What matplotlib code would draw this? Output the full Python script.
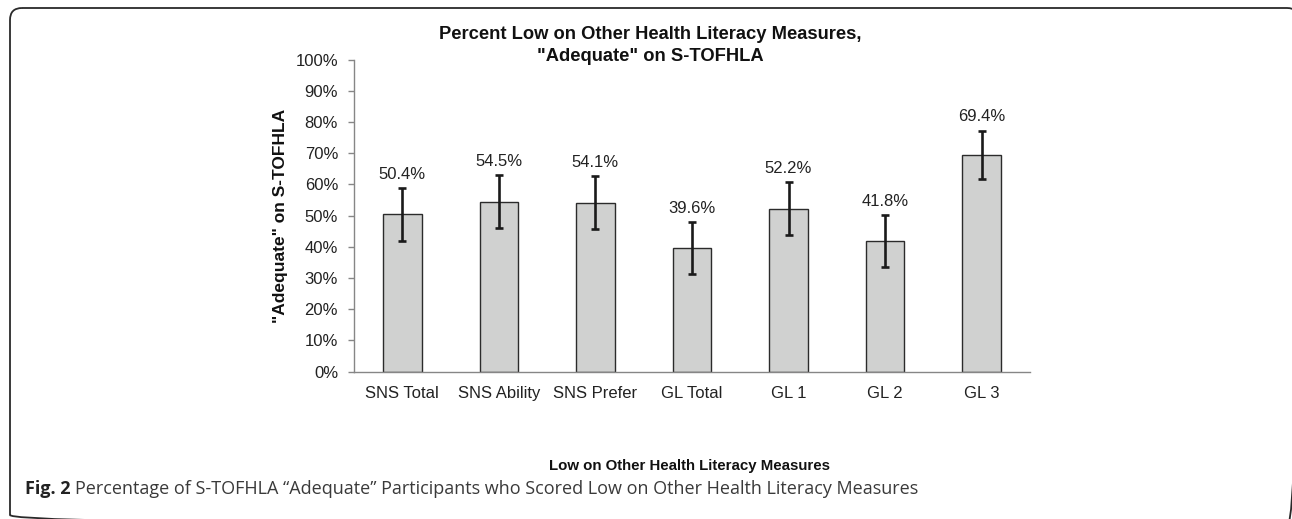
import matplotlib
matplotlib.use("Agg")
import matplotlib.pyplot as plt
from matplotlib.patches import FancyBboxPatch
import numpy as np

categories = ["SNS Total", "SNS Ability", "SNS Prefer", "GL Total", "GL 1", "GL 2", "GL 3"]
values = [50.4, 54.5, 54.1, 39.6, 52.2, 41.8, 69.4]
errors = [8.5, 8.4, 8.5, 8.3, 8.5, 8.3, 7.8]
yticks = [0, 10, 20, 30, 40, 50, 60, 70, 80, 90, 100]
ytick_labels = [f"{v}%" for v in yticks]
value_labels = [f"{v:.1f}%" for v in values]

title = 'Percent Low on Other Health Literacy Measures,\n"Adequate" on S-TOFHLA'
ylabel = '"Adequate" on S-TOFHLA'
xlabel = "Low on Other Health Literacy Measures"
caption_bold = "Fig. 2"
caption_rest = "Percentage of S-TOFHLA \u201cAdequate\u201d Participants who Scored Low on Other Health Literacy Measures"

W, H = 1292, 519
plt.rcParams["font.family"] = ["Liberation Sans", "DejaVu Sans"]
plt.rcParams["savefig.bbox"] = "standard"
fig = plt.figure(figsize=(W / 100, H / 100), dpi=100)

# background overlay axes in pixel coordinates for the rounded frame
bg = fig.add_axes([0, 0, 1, 1], zorder=0)
bg.set_xlim(0, W)
bg.set_ylim(H, 0)
bg.axis("off")
frame = FancyBboxPatch((10, 8), 1299 - 10, 527 - 8,
                       boxstyle="round,pad=0,rounding_size=12",
                       facecolor="none", edgecolor="#2a2a2a", linewidth=1.3, clip_on=True)
bg.add_patch(frame)

# main axes
left, right = 354 / W, 1030 / W
bottom, top = (H - 371.7) / H, (H - 59.5) / H
ax = fig.add_axes([left, bottom, right - left, top - bottom], zorder=1)
ax.patch.set_alpha(0)

x = np.arange(len(categories))
ax.bar(x, values, width=0.4, color="#d0d1d0", edgecolor="#2b2b2b", linewidth=1.0, zorder=2)
ax.errorbar(x, values, yerr=errors, fmt="none", ecolor="#1a1a1a", elinewidth=1.9,
            capsize=3, capthick=1.9, zorder=3)
for xi, v, e, lab in zip(x, values, errors, value_labels):
    ax.annotate(lab, xy=(xi, v + e), xytext=(0, 4.5), textcoords="offset points",
                ha="center", va="bottom", fontsize=12, color="#222222")

ax.set_xlim(-0.5, len(categories) - 0.5)
ax.set_ylim(0, 100)
ax.set_yticks(yticks)
ax.set_yticklabels(ytick_labels)
ax.set_xticks(x)
ax.set_xticklabels(categories)
ax.tick_params(axis="y", direction="out", length=4.5, width=1.0, color="#868686",
               labelsize=12, labelcolor="#222222", pad=7)
ax.tick_params(axis="x", length=0, labelsize=12, labelcolor="#222222", pad=10)
for s in ["top", "right"]:
    ax.spines[s].set_visible(False)
for s in ["left", "bottom"]:
    ax.spines[s].set_color("#868686")
    ax.spines[s].set_linewidth(1.0)

# titles
fig.text(650 / W, 1 - 45.5 / H, title, ha="center", va="center", fontsize=13.2,
         fontweight="bold", color="#111111", linespacing=1.4)
fig.text(281 / W, 1 - 216 / H, ylabel, ha="center", va="center", rotation=90,
         fontsize=12.5, fontweight="bold", color="#111111")
fig.text(690 / W, 1 - 466 / H, xlabel, ha="center", va="center", fontsize=10.8,
         fontweight="bold", color="#111111")

# caption
t1 = fig.text(25 / W, 1 - 498 / H, caption_bold, ha="left", va="bottom",
              fontsize=13, fontweight="bold", family=["Open Sans", "DejaVu Sans"], color="#222222")
bg.annotate(caption_rest, xy=(1, 0), xycoords=t1, xytext=(3.5, 0), textcoords="offset points",
            ha="left", va="bottom", fontsize=13, family=["Open Sans", "DejaVu Sans"],
            color="#3a3a3a")

fig.savefig("out.png", dpi=100, bbox_inches=None)
